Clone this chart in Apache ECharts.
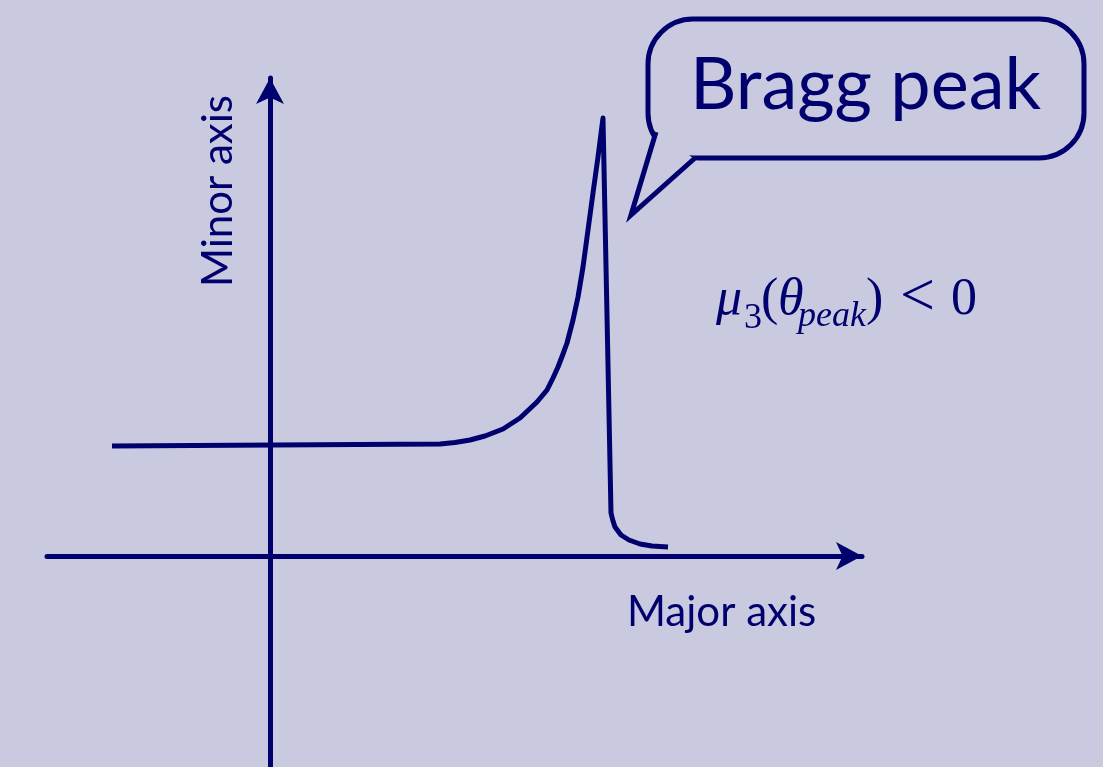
<!DOCTYPE html>
<html>
<head>
<meta charset="utf-8">
<title>Bragg peak</title>
<script src="https://cdn.jsdelivr.net/npm/echarts@6/dist/echarts.min.js"></script>
<style>
  html, body { margin: 0; padding: 0; background: #c9cadf; }
  #main { width: 1103px; height: 767px; }
</style>
</head>
<body>
<div id="main"></div>
<script>
// curve, in axis units (origin = where the axes cross)
const curveX = [-1.58, 1.70, 1.85, 2.00, 2.15, 2.33, 2.50, 2.67, 2.77, 2.83, 2.88, 2.93, 2.97, 3.03, 3.08, 3.13,
                3.18, 3.23, 3.28, 3.33,
                3.41, 3.43, 3.45, 3.51, 3.59, 3.70, 3.82, 3.98];
const curveY = [1.10, 1.12, 1.135, 1.16, 1.20, 1.27, 1.38, 1.54, 1.66, 1.78, 1.89, 2.02, 2.13, 2.36, 2.59, 2.89,
                3.26, 3.63, 3.99, 4.38,
                0.43, 0.35, 0.29, 0.21, 0.16, 0.12, 0.10, 0.09];

const axisNames = ['Major axis', 'Minor axis'];
const calloutText = 'Bragg peak';
// μ3(θpeak) < 0, split into main / subscript pieces
const mathMain = ['\u03bc', '(', '\u03b8', ')', '<', '0'];
const mathSub = ['3', 'peak'];

const navy = '#00006e';
const bg = '#c9cadf';
const sans = "Lato, 'Liberation Sans', sans-serif";
const serif = "'Liberation Serif', 'Times New Roman', serif";

var chart = echarts.init(document.getElementById('main'));

let curve = curveX.map(function (x, i) {
  return [x, curveY[i]];
});

// helper for the formula pieces
function mathText(str, x, y, size, italic) {
  return {
    type: 'text',
    x: x,
    y: y,
    silent: true,
    style: {
      text: str,
      fill: navy,
      font: (italic ? 'italic ' : '') + size + 'px ' + serif,
      textAlign: 'left',
      textVerticalAlign: 'middle'
    }
  };
}

const axisLine = {
  show: true,
  onZero: true,
  symbol: ['none', 'arrow'],
  symbolSize: [21, 26],
  lineStyle: { color: navy, width: 5 }
};

const option = {
  backgroundColor: bg,
  animation: false,
  grid: {
    left: 47,
    right: 241,
    top: 78,
    bottom: 0
  },
  xAxis: {
    type: 'value',
    min: -2.23,
    max: 5.92,
    axisLine: axisLine,
    axisTick: { show: false },
    axisLabel: { show: false },
    splitLine: { show: false }
  },
  yAxis: {
    type: 'value',
    min: -2.11,
    max: 4.78,
    axisLine: axisLine,
    axisTick: { show: false },
    axisLabel: { show: false },
    splitLine: { show: false }
  },
  series: [
    {
      type: 'line',
      data: curve,
      symbol: 'none',
      smooth: false,
      silent: true,
      lineStyle: { color: navy, width: 5, join: 'round' }
    }
  ],
  graphic: [
    // speech bubble
    {
      type: 'rect',
      silent: true,
      shape: { x: 648, y: 19, width: 436, height: 139, r: 45 },
      style: { fill: 'none', stroke: navy, lineWidth: 5 }
    },
    {
      type: 'polygon',
      silent: true,
      shape: { points: [[656, 130], [629, 218], [697, 161]] },
      style: { fill: bg }
    },
    {
      type: 'polyline',
      silent: true,
      shape: { points: [[656, 132], [631, 215], [695, 158]] },
      style: { fill: 'none', stroke: navy, lineWidth: 5, lineJoin: 'miter' }
    },
    {
      type: 'text',
      x: 690,
      y: 86,
      silent: true,
      style: { text: calloutText, fill: navy, font: '72px ' + sans, textAlign: 'left', textVerticalAlign: 'middle' }
    },
    // axis names
    {
      type: 'text',
      x: 627,
      y: 612,
      silent: true,
      style: { text: axisNames[0], fill: navy, font: '42px ' + sans, textAlign: 'left', textVerticalAlign: 'middle' }
    },
    {
      type: 'text',
      x: 218,
      y: 191,
      rotation: Math.PI / 2,
      silent: true,
      style: { text: axisNames[1], fill: navy, font: '42px ' + sans, textAlign: 'center', textVerticalAlign: 'middle' }
    },
    // formula
    mathText(mathMain[0], 716, 300, 52, true),
    mathText(mathSub[0], 744, 319, 36, false),
    mathText(mathMain[1], 761, 300, 52, false),
    mathText(mathMain[2], 778, 300, 52, true),
    mathText(mathSub[1], 798, 317, 36, true),
    mathText(mathMain[3], 866, 300, 52, false),
    mathText(mathMain[4], 900, 299, 62, false),
    mathText(mathMain[5], 951, 300, 52, false)
  ]
};
chart.setOption(option);
</script>
</body>
</html>
